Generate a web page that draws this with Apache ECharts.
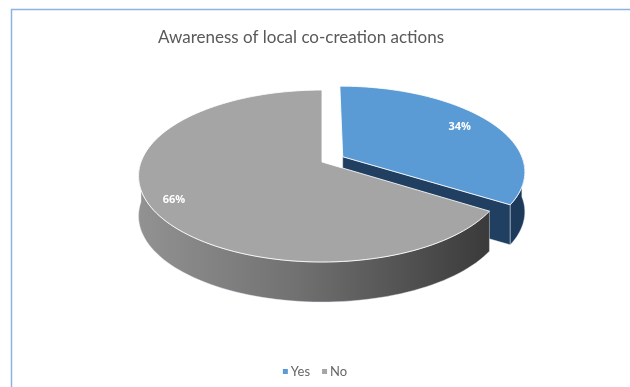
<!DOCTYPE html>
<html>
<head>
<meta charset="utf-8">
<script src="https://cdn.jsdelivr.net/npm/echarts@6/dist/echarts.min.js"></script>
<style>
  html, body { margin: 0; padding: 0; background: #ffffff; }
  #chart { width: 630px; height: 387px; }
</style>
</head>
<body>
<div id="chart"></div>
<script>
// Survey answers
const categories = ['Yes', 'No'];
const values = [34, 66];
const titleText = 'Awareness of local co-creation actions';

// Colours per slice: top face, side faces
const topColors = ['#5B9BD5', '#A5A5A5'];
const sideColors = ['#1d3a5a', null];

// Tilted-disc geometry (pixels)
const PIE = {
  cx: 322, cy: 162,      // centre of the top face
  rx: 181, ry: 83.7,     // radii of the top face
  depth: 40,             // disc thickness
  persp: 0.163,          // perspective strength (near edge larger)
  explode: [0.132, 0],   // slice offset as a fraction of the radius
  labelR: [0.8, 0.87]
};

const total = values.reduce((a, b) => a + b, 0);
const startAngles = [];
{
  let acc = 0;
  values.forEach(v => { startAngles.push(acc / total * 360); acc += v; });
}

// Project a point of the disc (u: right, v: towards viewer, h: 0 top / 1 bottom)
function project(u, v, h) {
  const w = 1 - PIE.persp * v;
  return [PIE.cx + PIE.rx * u / w, PIE.cy + PIE.ry * v / w + PIE.depth * h];
}
// Angle measured clockwise from 12 o'clock
function pt(deg, r, off, h) {
  const t = deg * Math.PI / 180;
  return project(off[0] + r * Math.sin(t), off[1] - r * Math.cos(t), h);
}
function arc(a0, a1, off, h) {
  const pts = [];
  const n = Math.max(2, Math.ceil(Math.abs(a1 - a0) / 2));
  for (let i = 0; i <= n; i++) pts.push(pt(a0 + (a1 - a0) * i / n, 1, off, h));
  return pts;
}

function buildSlice(i) {
  const a0 = startAngles[i];
  const a1 = a0 + values[i] / total * 360;
  const mid = (a0 + a1) / 2;
  const m = mid * Math.PI / 180;
  const e = PIE.explode[i];
  const off = [e * Math.sin(m), -e * Math.cos(m)];
  const children = [];

  const sideFill = sideColors[i] || new echarts.graphic.LinearGradient(0, 0, 1, 0, [
    { offset: 0, color: '#929292' },
    { offset: 0.45, color: '#717171' },
    { offset: 1, color: '#3a3a3a' }
  ]);
  const sideStroke = 'rgba(225,235,245,0.55)';

  // radial cut faces that turn towards the viewer
  const EPS = 1e-3;
  const faces = [];
  if (-Math.sin(a0 * Math.PI / 180) > EPS) faces.push(a0);
  if (Math.sin(a1 * Math.PI / 180) > EPS) faces.push(a1);
  faces.forEach(a => {
    children.push({
      type: 'polygon',
      shape: { points: [pt(0, 0, off, 0), pt(a, 1, off, 0), pt(a, 1, off, 1), pt(0, 0, off, 1)] },
      style: { fill: sideColors[i] ? '#213f61' : '#555555', stroke: sideStroke, lineWidth: 0.8 }
    });
  });

  // outer curved wall, front half only
  const s = Math.max(a0, 90), t = Math.min(a1, 270);
  if (t > s) {
    const pts = arc(s, t, off, 0).concat(arc(t, s, off, 1));
    children.push({
      type: 'polygon',
      shape: { points: pts },
      style: { fill: sideFill, stroke: sideStroke, lineWidth: 0.8 }
    });
  }

  // top face
  children.push({
    type: 'polygon',
    shape: { points: [pt(0, 0, off, 0)].concat(arc(a0, a1, off, 0)) },
    style: { fill: topColors[i], stroke: 'rgba(255,255,255,0.85)', lineWidth: 1 }
  });

  // percentage label
  const lp = pt(mid, PIE.labelR[i], off, 0);
  children.push({
    type: 'text',
    style: {
      text: Math.round(values[i] / total * 100) + '%',
      x: lp[0], y: lp[1],
      fill: '#ffffff',
      font: 'bold 11px "Open Sans", sans-serif',
      align: 'center', verticalAlign: 'middle',
      textAlign: 'center', textVerticalAlign: 'middle'
    }
  });

  return { type: 'group', children };
}

const chart = echarts.init(document.getElementById('chart'), null, { renderer: 'canvas' });
chart.setOption({
  animation: false,
  backgroundColor: '#ffffff',
  color: topColors,
  title: {
    text: titleText,
    left: 153, top: 24,
    textStyle: { fontFamily: 'Lato', fontSize: 17, fontWeight: 'normal', color: '#595959' }
  },
  legend: {
    data: categories,
    bottom: 4,
    left: 'center',
    icon: 'rect',
    itemWidth: 5, itemHeight: 5,
    itemGap: 12,
    textStyle: { fontFamily: 'Lato', fontSize: 13, color: '#666666', padding: [0, 0, 0, -2] }
  },
  graphic: [{
    type: 'rect',
    shape: { x: 11.5, y: 9.5, width: 700, height: 500 },
    style: { fill: 'none', stroke: '#8db3e2', lineWidth: 1.5 },
    silent: true
  }],
  series: categories.map((name, i) => ({
    type: 'custom',
    name,
    coordinateSystem: 'none',
    silent: true,
    itemStyle: { color: topColors[i] },
    data: [values[i]],
    renderItem: () => buildSlice(i)
  }))
});
</script>
</body>
</html>
